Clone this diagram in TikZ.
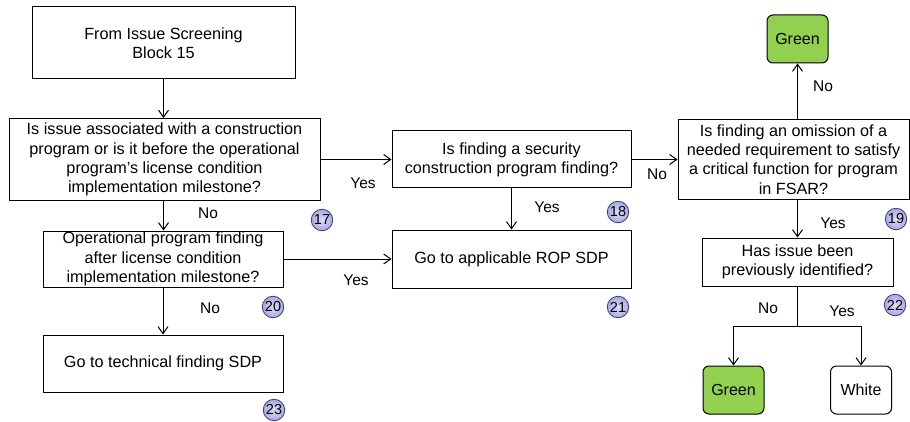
\documentclass[tikz,border=0pt]{standalone}
\usepackage{fontspec}
\setmainfont{Liberation Sans}
\usetikzlibrary{arrows.meta}
\definecolor{greenfill}{HTML}{92D050}
\definecolor{badgein}{HTML}{DCDCF8}
\definecolor{badgeout}{HTML}{A8A8E4}
\definecolor{badgeline}{HTML}{3C3C70}
\begin{document}
\begin{tikzpicture}[x=1pt,y=-1pt,
  box/.style={draw,line width=1pt,fill=white,align=center,inner sep=0pt,
    font=\fontsize{16.2}{19.3}\selectfont},
  result/.style={box,rounded corners=6pt,minimum width=61pt,minimum height=48pt,
    font=\fontsize{16}{19}\selectfont},
  flow/.style={line width=1pt,-{Straight Barb[length=7pt,width=10pt,line width=1pt]}},
  plain/.style={line width=1pt},
  lbl/.style={font=\fontsize{15.5}{17}\selectfont,inner sep=0pt},
  badge/.style={circle,draw=badgeline,line width=0.8pt,inner color=badgein,
    outer color=badgeout,minimum size=21.5pt,inner sep=0pt,
    font=\fontsize{14.5}{14.5}\selectfont}]
\useasboundingbox (0,0) rectangle (910,422);

% decision and action boxes
\node[box,minimum width=263pt,minimum height=72pt] (start) at (163.5,43)
  {From Issue Screening\\Block 15};
\node[box,minimum width=311pt,minimum height=82pt] (constr) at (164.5,159.5)
  {Is issue associated with a construction\\program or is it before the operational\\program’s license condition\\implementation milestone?};
\node[box,minimum width=239pt,minimum height=57pt] (secur) at (511.5,159.5)
  {Is finding a security\\construction program finding?};
\node[box,minimum width=239pt,minimum height=58pt] (rop) at (511.5,259)
  {Go to applicable ROP SDP};
\node[box,minimum width=240pt,minimum height=56pt] (oper) at (163,259)
  {Operational program finding\\after license condition\\implementation milestone?};
\node[box,minimum width=240pt,minimum height=57pt] (tech) at (163,363.5)
  {Go to technical finding SDP};
\node[box,minimum width=231pt,minimum height=80pt] (omit) at (793.5,159.5)
  {Is finding an omission of a\\needed requirement to satisfy\\a critical function for program\\in FSAR?};
\node[box,minimum width=191pt,minimum height=48pt] (prev) at (797.5,262)
  {Has issue been\\previously identified?};

% outcomes
\node[result,fill=greenfill] (greenA) at (797.5,39) {Green};
\node[result,fill=greenfill] (greenB) at (733.5,390) {Green};
\node[result] (white) at (861,390) {White};

% connectors
\draw[flow] (start.south) -- (start.south |- constr.north);
\draw[flow] (constr.east) -- (secur.west);
\draw[flow] (constr.south -| start.south) -- (start.south |- oper.north);
\draw[flow] (oper.east) -- (rop.west);
\draw[flow] (oper.south) -- (tech.north);
\draw[flow] (secur.south) -- (rop.north);
\draw[flow] (secur.east) -- (omit.west);
\draw[flow] (omit.north -| greenA.south) -- (greenA.south);
\draw[flow] (omit.south -| prev.north) -- (prev.north);
\coordinate (jm) at (797.5,326);
\coordinate (jl) at (733.5,326);
\coordinate (jr) at (861,326);
\draw[plain] (prev.south) -- (jm);
\draw[plain] (jl) -- (jr);
\draw[flow] (jl) -- (greenB.north);
\draw[flow] (jr) -- (white.north);

% branch labels
\node[lbl] (l1) at (363,183) {Yes};
\node[lbl] (l2) at (208,213) {No};
\node[lbl] (l3) at (356,280) {Yes};
\node[lbl] (l4) at (210,308) {No};
\node[lbl] (l5) at (657,174) {No};
\node[lbl] (l6) at (547,207) {Yes};
\node[lbl] (l7) at (823,86) {No};
\node[lbl] (l8) at (833,223) {Yes};
\node[lbl] (l9) at (768,308) {No};
\node[lbl] (l10) at (842,311) {Yes};

% step numbers
\node[badge] (b17) at (322,220) {17};
\node[badge] (b18) at (618,212) {18};
\node[badge] (b19) at (896,219) {19};
\node[badge] (b20) at (273,307) {20};
\node[badge] (b21) at (618,307) {21};
\node[badge] (b22) at (895,305) {22};
\node[badge] (b23) at (274,410) {23};
\end{tikzpicture}
\end{document}
